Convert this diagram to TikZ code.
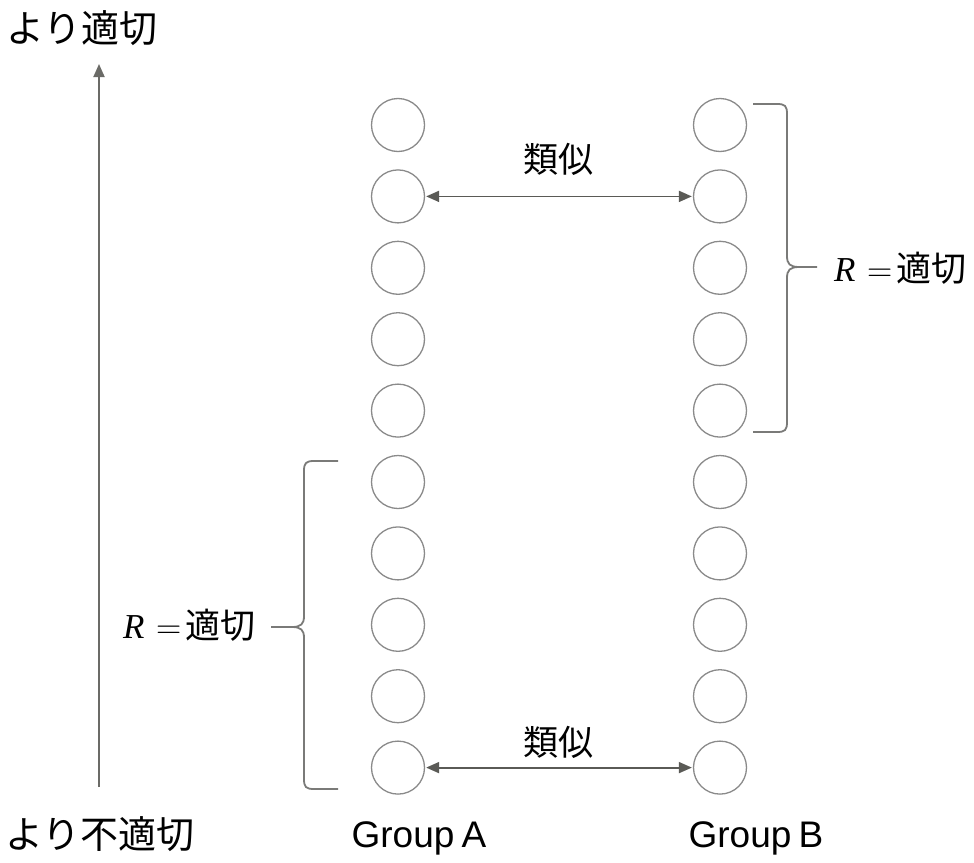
\documentclass[tikz,border=0pt]{standalone}
\usepackage{fontspec}
\newfontfamily\jp{Noto Sans CJK JP}
\newfontfamily\rser{Liberation Serif}
\setsansfont{Liberation Sans}
\usetikzlibrary{arrows.meta}
\definecolor{circgray}{HTML}{8A8A8A}
\definecolor{arrgray}{HTML}{5A5A56}
\definecolor{bracegray}{HTML}{7A7A78}
\newcommand{\rlabel}{{\rser\itshape R}\hspace{12pt}{\rmfamily =}\hspace{4pt}適切}
\tikzset{
  ball/.style={circle, draw=circgray, line width=1.3pt, minimum size=53pt, inner sep=0pt},
  simarrow/.style={arrgray, line width=1.8pt, {Triangle[length=13pt,width=11pt]}-{Triangle[length=13pt,width=11pt]}, shorten <=1pt, shorten >=1pt},
  axisarrow/.style={arrgray!90, line width=1.8pt, -{Triangle[length=13pt,width=11pt]}},
  bracepath/.style={bracegray, line width=1.8pt},
  jplabel/.style={inner sep=0pt, font=\jp\fontsize{35}{40}\selectfont},
  biglabel/.style={inner sep=0pt, font=\jp\fontsize{38}{44}\selectfont},
  grouplabel/.style={inner sep=0pt, anchor=base, font=\sffamily\fontsize{37}{42}\selectfont},
}
\begin{document}
\begin{tikzpicture}[x=1pt, y=-1pt]
\useasboundingbox (0,0) rectangle (974,862);
% circles
\foreach \i in {1,...,10} {
  \node[ball] (A\i) at (398, {125+(\i-1)*71.4}) {};
  \node[ball] (B\i) at (720, {125+(\i-1)*71.4}) {};
}
% similarity arrows
\draw[simarrow] (A2) -- (B2);
\draw[simarrow] (A10) -- (B10);
\node[jplabel] (s1) at (558,159) {類似};
\node[jplabel] (s2) at (558,742) {類似};
% axis
\coordinate (axbot) at (99,787);
\coordinate (axtop) at (99,64);
\draw[axisarrow] (axbot) -- (axtop);
\node[biglabel] (more) at (82,28) {より適切};
\node[biglabel] (less) at (100,834) {より不適切};
% group labels
\node[grouplabel] (ga) at (419,847) {Group\hspace{-3pt} A};
\node[grouplabel] (gb) at (756,847) {Group\hspace{-3pt} B};
% right brace
\coordinate (rbt) at (753,104);
\coordinate (rbb) at (753,432);
\coordinate (rbtip) at (817,267);
\draw[bracepath] (rbt) -- (777,104) .. controls (785,104) and (787,106) .. (787,114)
  -- (787,256) .. controls (787,264) and (790,267) .. (799,267) -- (rbtip);
\draw[bracepath] (rbb) -- (777,432) .. controls (785,432) and (787,430) .. (787,422)
  -- (787,278) .. controls (787,270) and (790,267) .. (799,267);
\node[jplabel, anchor=west] (rlab) at (834,268) {\rlabel};
% left brace
\coordinate (lbt) at (338,461);
\coordinate (lbb) at (338,789);
\coordinate (lbtip) at (271,627);
\draw[bracepath] (lbt) -- (314,461) .. controls (306,461) and (304,463) .. (304,471)
  -- (304,616) .. controls (304,624) and (301,627) .. (292,627) -- (lbtip);
\draw[bracepath] (lbb) -- (314,789) .. controls (306,789) and (304,787) .. (304,779)
  -- (304,638) .. controls (304,630) and (301,627) .. (292,627);
\node[jplabel, anchor=east] (llab) at (256,625) {\rlabel};
\end{tikzpicture}
\end{document}
